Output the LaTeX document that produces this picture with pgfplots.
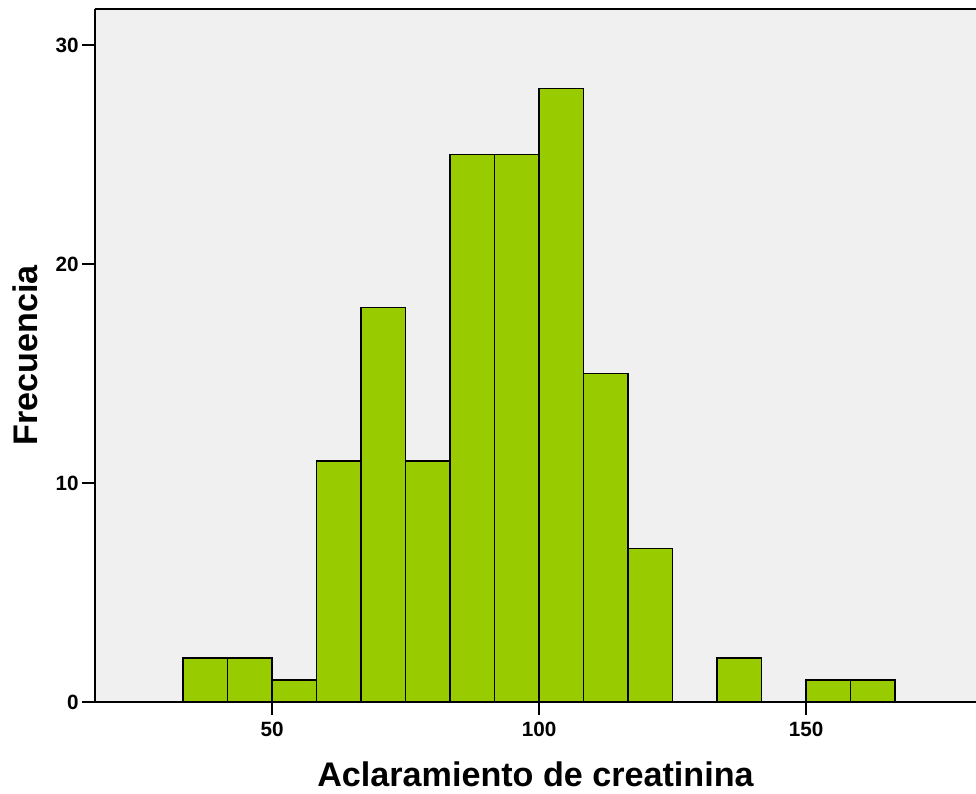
\documentclass[border=0pt]{standalone}
\usepackage{fontspec}
\setmainfont{Liberation Sans}
\usepackage{pgfplots}
\pgfplotsset{compat=1.18}
\usetikzlibrary{calc}
\definecolor{barfill}{HTML}{99CC00}
\definecolor{bgfill}{HTML}{F0F0F0}
\begin{document}
\begin{tikzpicture}
\begin{axis}[
  name=ax,
  scale only axis,
  width=660.75pt, height=519.75pt,
  xmin=16.85, xmax=181.8,
  ymin=0, ymax=31.64,
  axis x line*=bottom,
  axis y line*=left,
  axis line style={line width=1.5pt},
  axis background/.style={fill=bgfill},
  xtick={50,100,150}, ytick={0,10,20,30},
  tick align=outside,
  major tick length=9.75pt,
  tick style={line width=1.5pt, black},
  /pgf/number format/assume math mode=true,
  tick label style={font=\bfseries\fontsize{15.5}{15.5}\selectfont},
  xticklabel style={yshift=-2pt},
  yticklabel style={xshift=1pt},
  xlabel={Aclaramiento de creatinina},
  ylabel={Frecuencia},
  label style={font=\bfseries\fontsize{25.6}{25.6}\selectfont},
  xlabel style={at={(axis description cs:0.5,-0.1045)}, anchor=center, inner sep=0pt},
  ylabel style={at={(axis description cs:-0.0795,0.5)}, anchor=center, rotate=0},
  axis on top,
  clip=false,
]
\addplot[ybar interval, fill=barfill, draw=black, line width=1.1pt] coordinates {
  (33.333,2) (41.667,2) (50,1) (58.333,11) (66.667,18) (75,11)
  (83.333,25) (91.667,25) (100,28) (108.333,15) (116.667,7)
  (125,0) (133.333,2) (141.667,0) (150,1) (158.333,1) (166.667,0)
};
\draw[line width=1.5pt] (rel axis cs:0,1) -- (rel axis cs:1,1);
\end{axis}
\pgfresetboundingbox
\path ($(ax.south west)+(-71.25pt,-68.25pt)$) rectangle ($(ax.north east)+(0pt,6.75pt)$);
\end{tikzpicture}
\end{document}
